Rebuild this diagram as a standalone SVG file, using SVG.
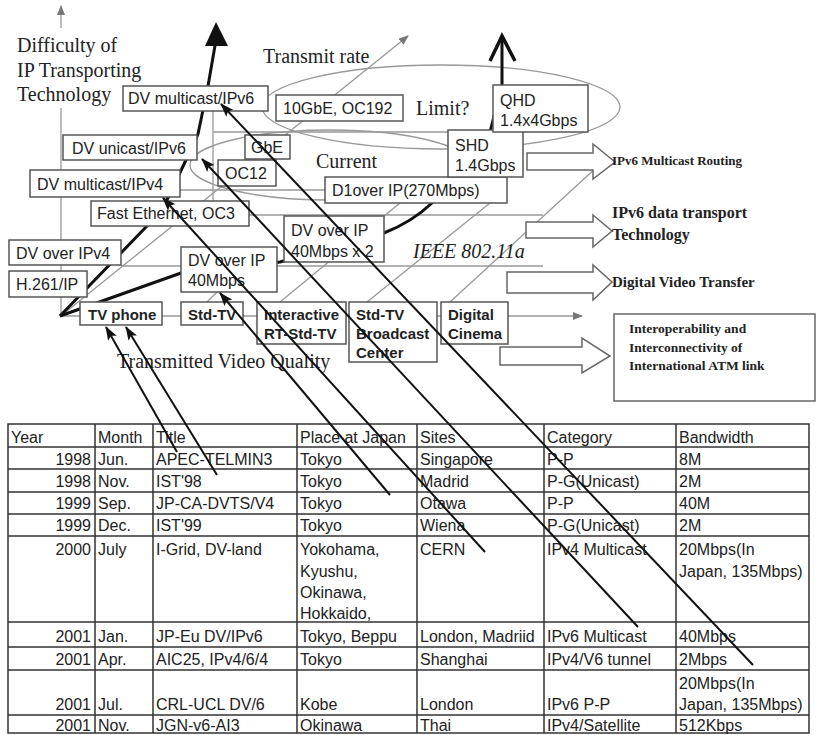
<svg xmlns="http://www.w3.org/2000/svg" width="819" height="735" viewBox="0 0 819 735">
<defs>
<style>
.bx{fill:#fff;stroke:#555;stroke-width:1.5}
.t{font-family:"Liberation Sans",Arial,sans-serif;font-size:16px;fill:#222}
.tb{font-family:"Liberation Sans",Arial,sans-serif;font-size:15px;font-weight:bold;fill:#222}
.s{font-family:"Liberation Serif","Times New Roman",serif;font-size:20px;fill:#222}
.sb{font-family:"Liberation Serif","Times New Roman",serif;font-weight:bold;fill:#222}
.g{stroke:#999;stroke-width:1.3;fill:none}
.k{stroke:#111;stroke-width:3;fill:none;stroke-linejoin:round}
.a{stroke:#111;stroke-width:2;fill:none;marker-end:url(#ah)}
.blk{fill:#fff;stroke:#666;stroke-width:1.5}
.tl{stroke:#333;stroke-width:1.5;fill:none}
.c{font-family:"Liberation Sans",Arial,sans-serif;font-size:16px;fill:#222}
</style>
<marker id="ah" markerUnits="userSpaceOnUse" markerWidth="14" markerHeight="10" refX="13" refY="5" orient="auto">
<path d="M0,0 L14,5 L0,10 L3,5 Z" fill="#111"/>
</marker>
<marker id="ag" markerUnits="userSpaceOnUse" markerWidth="10" markerHeight="8" refX="9" refY="4" orient="auto">
<path d="M0,0 L10,4 L0,8 Z" fill="#777"/>
</marker>
</defs>
<rect width="819" height="735" fill="#fff"/>

<g id="axes">
<line class="g" x1="61" y1="28" x2="61" y2="6" marker-end="url(#ag)"/>
<line class="g" x1="61" y1="108" x2="61" y2="316"/>
<line class="g" x1="60" y1="316" x2="582" y2="316" marker-end="url(#ag)"/>
<line class="g" x1="121" y1="266" x2="543" y2="266"/>
<line class="g" x1="249" y1="215" x2="543" y2="215"/>
<line class="g" x1="180" y1="190" x2="325" y2="190"/>
<line class="g" x1="213" y1="132" x2="448" y2="132"/>
<line class="g" x1="213" y1="111" x2="213" y2="201"/>
<ellipse class="g" cx="441" cy="107" rx="179" ry="42"/>
<ellipse class="g" cx="330" cy="165" rx="140" ry="35"/>
<line class="g" x1="62" y1="315" x2="408" y2="36" marker-end="url(#ag)"/>
<line class="g" x1="280" y1="302" x2="400" y2="203"/>
<line class="g" x1="367" y1="302" x2="490" y2="203"/>
<line class="g" x1="450" y1="302" x2="597" y2="167"/>
<line class="g" x1="207" y1="302" x2="217" y2="292"/>
</g>

<g id="labels">
<text class="s" x="17" y="52">Difficulty of</text>
<text class="s" x="17" y="77">IP Transporting</text>
<text class="s" x="17" y="101">Technology</text>
<text class="s" x="263" y="63">Transmit rate</text>
<text class="s" x="416" y="115">Limit?</text>
<text class="s" x="316" y="168">Current</text>
<text class="s" x="413" y="258" font-style="italic">IEEE 802.11a</text>
<text class="s" x="117" y="368" font-size="19">Transmitted Video Quality</text>
</g>

<g id="trend" class="k">
<polyline points="60,316 147,226 168,198 186,160 198,134 208,86 216,40"/>
<path d="M60,316 L181,273 L280,262 L384,233 Q412,222 432,203 L490,132 L502,85 L502,38"/>
</g>
<path d="M216,22 L205,46 L228,46 Z" fill="#111"/>
<polyline points="490,61 502,36 515,61" fill="none" stroke="#111" stroke-width="3.5"/>

<g id="n-dvmc6"><rect class="bx" x="123" y="86" width="145" height="25"/><text class="t" x="128" y="104">DV multicast/IPv6</text></g>
<g id="n-dvuc6"><rect class="bx" x="63" y="135" width="134" height="25"/><text class="t" x="72" y="154">DV unicast/IPv6</text></g>
<g id="n-dvmc4"><rect class="bx" x="30" y="170" width="150" height="27"/><text class="t" x="37" y="190">DV multicast/IPv4</text></g>
<g id="n-fe"><rect class="bx" x="91" y="201" width="158" height="25"/><text class="t" x="97" y="219">Fast Ethernet, OC3</text></g>
<g id="n-dvip4"><rect class="bx" x="9" y="240" width="112" height="25"/><text class="t" x="16" y="259">DV over IPv4</text></g>
<g id="n-h261"><rect class="bx" x="9" y="271" width="78" height="26"/><text class="t" x="16" y="290">H.261/IP</text></g>
<g id="n-dvip40"><rect class="bx" x="181" y="247" width="96" height="45"/><text class="t" x="188" y="266">DV over IP</text><text class="t" x="188" y="286">40Mbps</text></g>
<g id="n-dvip80"><rect class="bx" x="284" y="216" width="100" height="46"/><text class="t" x="291" y="236">DV over IP</text><text class="t" x="291" y="257">40Mbps x 2</text></g>
<g id="n-d1"><rect class="bx" x="325" y="177" width="182" height="26"/><text class="t" x="332" y="196">D1over IP(270Mbps)</text></g>
<g id="n-10g"><rect class="bx" x="276" y="95" width="127" height="26"/><text class="t" x="283" y="114">10GbE, OC192</text></g>
<g id="n-gbe"><rect class="bx" x="245" y="135" width="45" height="24"/><text class="t" x="251" y="153">GbE</text></g>
<g id="n-oc12"><rect class="bx" x="218" y="160" width="58" height="26"/><text class="t" x="225" y="179">OC12</text></g>
<g id="n-shd"><rect class="bx" x="448" y="130" width="75" height="47"/><text class="t" x="455" y="151">SHD</text><text class="t" x="455" y="171">1.4Gbps</text></g>
<g id="n-qhd"><rect class="bx" x="493" y="85" width="95" height="47"/><text class="t" x="500" y="106">QHD</text><text class="t" x="500" y="126">1.4x4Gbps</text></g>
<g id="n-tvp"><rect class="bx" x="80" y="302" width="82" height="23"/><text class="tb" x="88" y="320">TV phone</text></g>
<g id="n-stdtv"><rect class="bx" x="181" y="302" width="62" height="23"/><text class="tb" x="188" y="320">Std-TV</text></g>
<g id="n-irt"><rect class="bx" x="257" y="302" width="89" height="42"/><text class="tb" x="264" y="320">Interactive</text><text class="tb" x="264" y="339">RT-Std-TV</text></g>
<g id="n-bc"><rect class="bx" x="349" y="302" width="88" height="60"/><text class="tb" x="356" y="320">Std-TV</text><text class="tb" x="356" y="339">Broadcast</text><text class="tb" x="356" y="358">Center</text></g>
<g id="n-dc"><rect class="bx" x="441" y="302" width="67" height="42"/><text class="tb" x="448" y="320">Digital</text><text class="tb" x="448" y="339">Cinema</text></g>

<g id="n-r1"><path class="blk" d="M527,153 L593,153 L593,144 L615,162 L593,179 L593,170 L527,170 Z"/><text class="sb" x="612" y="165" font-size="13">IPv6 Multicast Routing</text></g>
<g id="n-r2"><path class="blk" d="M526,222 L593,222 L593,215 L612,231 L593,247 L593,238 L526,238 Z"/><text class="sb" x="612" y="218" font-size="16">IPv6 data transport</text><text class="sb" x="612" y="240" font-size="16">Technology</text></g>
<g id="n-r3"><path class="blk" d="M507,272 L593,272 L593,265 L612,282 L593,300 L593,293 L507,293 Z"/><text class="sb" x="612" y="287" font-size="15">Digital Video Transfer</text></g>
<g id="n-r4"><path class="blk" d="M500,347 L582,347 L582,338 L610,356 L582,373 L582,365 L500,365 Z"/>
<rect x="614" y="314" width="201" height="87" fill="#fff" stroke="#666" stroke-width="1.5"/>
<text class="sb" x="629" y="333" font-size="13.5">Interoperability and</text><text class="sb" x="629" y="352" font-size="13.5">Interconnectivity of</text><text class="sb" x="629" y="370" font-size="13.5">International ATM link</text></g>

<g id="table">
<rect class="tl" x="8" y="424" width="801" height="309" fill="#fff"/>
<path class="tl" d="M8,447H809M8,469H809M8,492H809M8,514H809M8,536H809M8,622H809M8,647H809M8,670H809M8,715H809"/>
<path class="tl" d="M95,424V733M153,424V733M297,424V733M417,424V733M544,424V733M676,424V733"/>
<g class="c">
<text x="11" y="443">Year</text><text x="98" y="443">Month</text><text x="156" y="443">Title</text><text x="300" y="443">Place at Japan</text><text x="420" y="443">Sites</text><text x="547" y="443">Category</text><text x="679" y="443">Bandwidth</text>
<text x="91" y="465" text-anchor="end">1998</text><text x="98" y="465">Jun.</text><text x="156" y="465">APEC-TELMIN3</text><text x="300" y="465">Tokyo</text><text x="420" y="465">Singapore</text><text x="547" y="465">P-P</text><text x="679" y="465">8M</text>
<text x="91" y="487" text-anchor="end">1998</text><text x="98" y="487">Nov.</text><text x="156" y="487">IST'98</text><text x="300" y="487">Tokyo</text><text x="420" y="487">Madrid</text><text x="547" y="487">P-G(Unicast)</text><text x="679" y="487">2M</text>
<text x="91" y="509" text-anchor="end">1999</text><text x="98" y="509">Sep.</text><text x="156" y="509">JP-CA-DVTS/V4</text><text x="300" y="509">Tokyo</text><text x="420" y="509">Otawa</text><text x="547" y="509">P-P</text><text x="679" y="509">40M</text>
<text x="91" y="531" text-anchor="end">1999</text><text x="98" y="531">Dec.</text><text x="156" y="531">IST'99</text><text x="300" y="531">Tokyo</text><text x="420" y="531">Wiena</text><text x="547" y="531">P-G(Unicast)</text><text x="679" y="531">2M</text>
<text x="91" y="555" text-anchor="end">2000</text><text x="98" y="555">July</text><text x="156" y="555">I-Grid, DV-land</text><text x="300" y="555">Yokohama,</text><text x="300" y="577">Kyushu,</text><text x="300" y="598">Okinawa,</text><text x="300" y="619">Hokkaido,</text><text x="420" y="555">CERN</text><text x="547" y="555">IPv4 Multicast</text><text x="679" y="555">20Mbps(In</text><text x="679" y="577">Japan, 135Mbps)</text>
<text x="91" y="642" text-anchor="end">2001</text><text x="98" y="642">Jan.</text><text x="156" y="642">JP-Eu DV/IPv6</text><text x="300" y="642">Tokyo, Beppu</text><text x="420" y="642">London, Madriid</text><text x="547" y="642">IPv6 Multicast</text><text x="679" y="642">40Mbps</text>
<text x="91" y="665" text-anchor="end">2001</text><text x="98" y="665">Apr.</text><text x="156" y="665">AIC25, IPv4/6/4</text><text x="300" y="665">Tokyo</text><text x="420" y="665">Shanghai</text><text x="547" y="665">IPv4/V6 tunnel</text><text x="679" y="665">2Mbps</text>
<text x="91" y="710" text-anchor="end">2001</text><text x="98" y="710">Jul.</text><text x="156" y="710">CRL-UCL DV/6</text><text x="300" y="710">Kobe</text><text x="420" y="710">London</text><text x="547" y="710">IPv6 P-P</text><text x="679" y="689">20Mbps(In</text><text x="679" y="710">Japan, 135Mbps)</text>
<text x="91" y="731" text-anchor="end">2001</text><text x="98" y="731">Nov.</text><text x="156" y="731">JGN-v6-AI3</text><text x="300" y="731">Okinawa</text><text x="420" y="731">Thai</text><text x="547" y="731">IPv4/Satellite</text><text x="679" y="731">512Kbps</text>
</g>
</g>

<g id="connectors">
<line class="a" x1="177" y1="452" x2="106" y2="327"/>
<line class="a" x1="217" y1="475" x2="126" y2="327"/>
<line class="a" x1="390" y1="495" x2="220" y2="293"/>
<line class="a" x1="485" y1="552" x2="163" y2="198"/>
<line class="a" x1="638" y1="627" x2="202" y2="159"/>
<line class="a" x1="753" y1="665" x2="221" y2="104"/>
</g>
</svg>
